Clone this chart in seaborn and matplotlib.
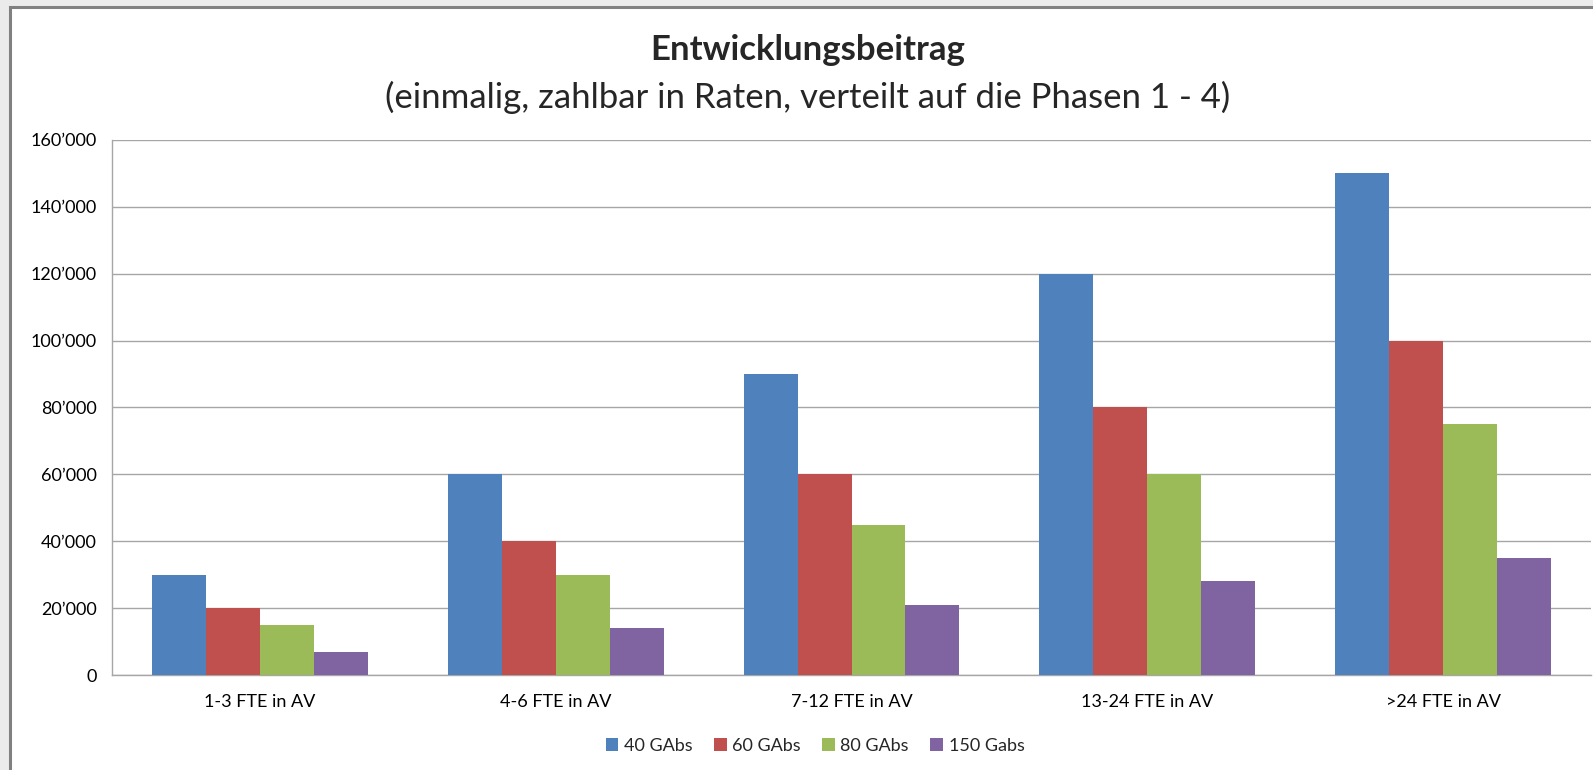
import pandas as pd
import numpy as np
import matplotlib.pyplot as plt
import matplotlib.patches as patches
from matplotlib.ticker import FuncFormatter, FixedLocator
import seaborn as sns

# Data
categories = ["1-3 FTE in AV", "4-6 FTE in AV", "7-12 FTE in AV", "13-24 FTE in AV", ">24 FTE in AV"]
series_names = ["40 GAbs", "60 GAbs", "80 GAbs", "150 Gabs"]
gabs_40 = [30000, 60000, 90000, 120000, 150000]
gabs_60 = [20000, 40000, 60000, 80000, 100000]
gabs_80 = [15000, 30000, 45000, 60000, 75000]
gabs_150 = [7000, 14000, 21000, 28000, 35000]
colors = ["#4F81BD", "#C0504D", "#9BBB59", "#8064A2"]

# Long format for seaborn
rows = []
for name, vals in zip(series_names, [gabs_40, gabs_60, gabs_80, gabs_150]):
    for cat, v in zip(categories, vals):
        rows.append({"Kategorie": cat, "Serie": name, "Wert": v})
df = pd.DataFrame(rows)

sns.set_style("white")
plt.rcParams["font.family"] = ["Lato", "DejaVu Sans"]

fig = plt.figure(figsize=(15.93, 7.7), dpi=100)
fig.patch.set_facecolor("#EBEBEB")

# white chart frame (behind everything)
frame = patches.Rectangle((10 / 1593, -0.05), 1.1, 1.05 - 7 / 770,
                          transform=fig.transFigure, facecolor="white",
                          edgecolor="#808080", linewidth=2.2, zorder=-10)
fig.patches.append(frame)

ax = fig.add_axes([112 / 1593, 95 / 770, (1591 - 112) / 1593, (675 - 140) / 770])
ax.set_facecolor("none")

sns.barplot(data=df, x="Kategorie", y="Wert", hue="Serie", palette=colors,
            width=0.73, linewidth=0, saturation=1, ax=ax, zorder=3)

# Axis styling
ax.set_ylim(0, 160000)
ax.set_xlim(-0.5, len(categories) - 0.5)
ax.yaxis.set_major_locator(FixedLocator(np.arange(0, 160001, 20000)))
ax.yaxis.set_major_formatter(FuncFormatter(lambda v, p: "0" if v == 0 else f"{int(v):,}".replace(",", "\u2019")))
ax.grid(axis="y", color="#A6A6A6", linewidth=1.0, zorder=0)
ax.set_axisbelow(True)

for s in ["top", "right"]:
    ax.spines[s].set_visible(False)
for s in ["left", "bottom"]:
    ax.spines[s].set_color("#A6A6A6")
    ax.spines[s].set_linewidth(1.0)

ax.tick_params(axis="y", length=7, color="#A6A6A6", labelsize=13, pad=4, labelcolor="#000000")
ax.tick_params(axis="x", which="major", length=0, labelsize=13, pad=14, labelcolor="#000000")
ax.set_xticks(np.arange(-0.5, len(categories) + 0.5, 1), minor=True)
ax.tick_params(axis="x", which="minor", length=7, color="#A6A6A6")
ax.set_xlabel("")
ax.set_ylabel("")

# Legend
handles, labels = ax.get_legend_handles_labels()
ax.legend_.remove()
fig.legend(handles, labels, loc="center", bbox_to_anchor=(815 / 1593, 1 - 746 / 770),
           ncol=4, frameon=False, fontsize=13, handlelength=0.7, handleheight=0.7,
           handletextpad=0.3, columnspacing=1.2)

# Titles
fig.text(808 / 1593, 1 - 50 / 770, "Entwicklungsbeitrag", ha="center", va="center",
         fontsize=25, fontweight="bold")
fig.text(808 / 1593, 1 - 97 / 770, "(einmalig, zahlbar in Raten, verteilt auf die Phasen 1 - 4)",
         ha="center", va="center", fontsize=25)

plt.savefig("out.png", dpi=100, facecolor=fig.get_facecolor())
